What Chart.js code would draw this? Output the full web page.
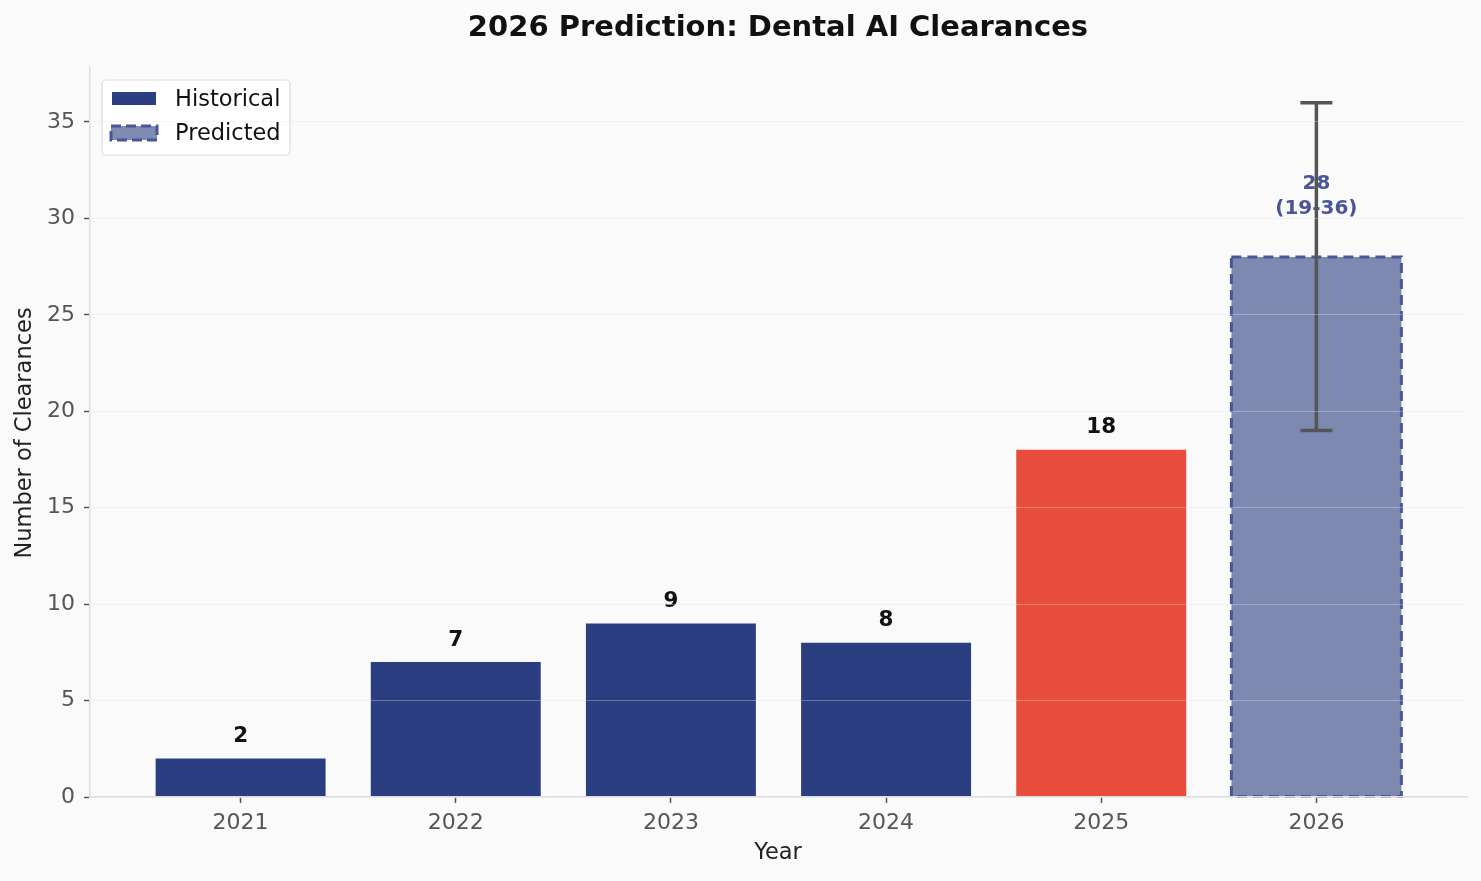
<!DOCTYPE html>
<html>
<head>
<meta charset="utf-8">
<title>2026 Prediction: Dental AI Clearances</title>
<script src="https://cdn.jsdelivr.net/npm/chart.js@4.4.1/dist/chart.umd.min.js"></script>
<style>
  html, body { margin: 0; padding: 0; background: #fafafa; }
  .wrap { width: 1481px; height: 881px; position: relative; }
</style>
</head>
<body>
<div class="wrap"><canvas id="predChart"></canvas></div>
<script>
// chart data
const years = ['2021', '2022', '2023', '2024', '2025', '2026'];
const clearances = [2, 7, 9, 8, 18, 28];
const barColors = ['#2c3e82', '#2c3e82', '#2c3e82', '#2c3e82', '#e74c3c', 'rgba(44, 62, 130, 0.6)'];
const predictedIndex = 5;
const predLow = [null, null, null, null, null, 19];
const predHigh = [null, null, null, null, null, 36];
const yTicks = [0, 5, 10, 15, 20, 25, 30, 35];
const legendLabels = ['Historical', 'Predicted'];

const FONT = "'DejaVu Sans', 'Liberation Sans', sans-serif";

// Title, axis titles, value labels, error bar, legend
const decorPlugin = {
  id: 'decor',
  afterDatasetsDraw(chart) {
    const ctx = chart.ctx;
    const x = chart.scales.x, y = chart.scales.y;
    const meta = chart.getDatasetMeta(0);
    ctx.save();

    // dashed border on predicted bar
    const pb = meta.data[predictedIndex];
    ctx.strokeStyle = '#4a5696';
    ctx.lineWidth = 3;
    ctx.setLineDash([10, 6]);
    ctx.strokeRect(pb.x - pb.width / 2, pb.y, pb.width, pb.base - pb.y);
    ctx.setLineDash([]);

    // value labels
    ctx.textAlign = 'center';
    ctx.textBaseline = 'middle';
    clearances.forEach((v, i) => {
      const bar = meta.data[i];
      if (i === predictedIndex) {
        ctx.fillStyle = '#4a5696';
        ctx.font = 'bold 20px ' + FONT;
        ctx.fillText(String(v), bar.x, bar.y - 73);
        ctx.fillText('(' + predLow[i] + '-' + predHigh[i] + ')', bar.x, bar.y - 48);
      } else {
        ctx.fillStyle = '#111';
        ctx.font = 'bold 21.5px ' + FONT;
        ctx.fillText(String(v), bar.x, bar.y - 22);
      }
    });

    // error bar
    ctx.strokeStyle = '#555';
    ctx.lineWidth = 3.5;
    predLow.forEach((lo, i) => {
      if (lo === null) return;
      const cx = x.getPixelForValue(i);
      const yl = y.getPixelForValue(lo);
      const yh = y.getPixelForValue(predHigh[i]);
      ctx.beginPath();
      ctx.moveTo(cx, yl); ctx.lineTo(cx, yh);
      ctx.moveTo(cx - 16, yl); ctx.lineTo(cx + 16, yl);
      ctx.moveTo(cx - 16, yh); ctx.lineTo(cx + 16, yh);
      ctx.stroke();
    });

    // legend
    ctx.fillStyle = 'rgba(255, 255, 255, 0.85)';
    ctx.strokeStyle = '#dddddd';
    ctx.lineWidth = 1.2;
    ctx.beginPath();
    ctx.roundRect(102, 80, 188, 75, 4);
    ctx.fill();
    ctx.stroke();
    ctx.fillStyle = barColors[0];
    ctx.fillRect(112, 92, 44, 13);
    ctx.fillStyle = barColors[predictedIndex];
    ctx.fillRect(111, 126, 46, 14);
    ctx.strokeStyle = '#4a5696';
    ctx.lineWidth = 3;
    ctx.setLineDash([10, 5]);
    ctx.strokeRect(111, 126, 46, 14);
    ctx.setLineDash([]);
    ctx.fillStyle = '#111';
    ctx.font = '22.5px ' + FONT;
    ctx.textAlign = 'left';
    ctx.fillText(legendLabels[0], 175, 100);
    ctx.fillText(legendLabels[1], 175, 134);

    // title
    ctx.textAlign = 'center';
    ctx.font = 'bold 29px ' + FONT;
    ctx.fillText('2026 Prediction: Dental AI Clearances', 778, 28);

    // axis titles
    ctx.fillStyle = '#222';
    ctx.font = '22.5px ' + FONT;
    ctx.fillText('Year', 778, 853);
    ctx.translate(25, 433);
    ctx.rotate(-Math.PI / 2);
    ctx.fillText('Number of Clearances', 0, 0);
    ctx.restore();
  }
};

new Chart(document.getElementById('predChart'), {
  type: 'bar',
  data: {
    datasets: [{
      data: clearances.map((v, i) => ({ x: i, y: v })),
      backgroundColor: barColors,
      borderWidth: 0,
      barPercentage: 0.79,
      categoryPercentage: 1
    }]
  },
  options: {
    responsive: true,
    maintainAspectRatio: false,
    animation: false,
    layout: { padding: { top: 67, right: 14, bottom: 0, left: 0 } },
    plugins: {
      legend: { display: false },
      title: { display: false },
      tooltip: { enabled: false }
    },
    scales: {
      x: {
        type: 'linear',
        offset: false,
        min: -0.7,
        max: 5.7,
        afterBuildTicks: (scale) => { scale.ticks = years.map((_, i) => ({ value: i })); },
        afterFit: (scale) => { scale.height = 84; },
        ticks: {
          color: '#555',
          font: { family: FONT, size: 22 },
          padding: 7,
          maxRotation: 0,
          autoSkip: false,
          callback: (v) => years[v]
        },
        grid: { offset: false, drawOnChartArea: false, drawTicks: true, tickLength: 6, tickColor: '#555', tickWidth: 1.5 },
        border: { color: '#dddddd', width: 1.5, z: 1 }
      },
      y: {
        min: 0,
        max: 37.85,
        afterBuildTicks: (scale) => { scale.ticks = yTicks.map(v => ({ value: v })); },
        afterFit: (scale) => { scale.width = 90; },
        ticks: {
          color: '#555',
          font: { family: FONT, size: 22 },
          padding: 9
        },
        grid: { color: 'rgba(225, 225, 225, 0.35)', lineWidth: 1, z: 1, tickLength: 6, tickColor: '#555', tickWidth: 1.5 },
        border: { color: '#dddddd', width: 1.5, z: 1 }
      }
    }
  },
  plugins: [decorPlugin]
});
</script>
</body>
</html>
